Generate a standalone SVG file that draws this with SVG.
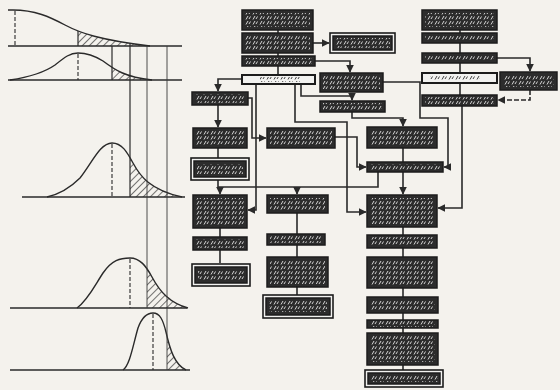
<svg xmlns="http://www.w3.org/2000/svg" width="560" height="390" viewBox="0 0 560 390">
<defs>
<style>
.bx{fill:#2c2c2c;stroke:#1c1c1c;stroke-width:1.5}
.lt{fill:#f2f2f0;stroke:#1c1c1c;stroke-width:2}
.sc{fill:url(#scrib)}
.scd{fill:url(#scribd)}
.dbo{fill:#f2f2f0;stroke:#1c1c1c;stroke-width:1.6}
.ln{fill:none;stroke:#2a2a2a;stroke-width:1.6}
.cv{fill:none;stroke:#2a2a2a;stroke-width:1.4}
.ax{fill:none;stroke:#2a2a2a;stroke-width:1.6}
.dsh{fill:none;stroke:#2a2a2a;stroke-width:1.1;stroke-dasharray:4 2}
.vt{fill:none;stroke:#2a2a2a;stroke-width:1.2}
.vtt{fill:none;stroke:#3a3a3a;stroke-width:0.9}
</style>
<pattern id="scrib" width="7" height="5" patternUnits="userSpaceOnUse">
<path d="M1,4.5 L3,1 M4,4 L5.5,1.5" stroke="#e6e6e6" stroke-width="0.9" fill="none"/>
</pattern>
<pattern id="scribd" width="7" height="5" patternUnits="userSpaceOnUse">
<path d="M1,4.5 L3,1 M4,4 L5.5,1.5" stroke="#2c2c2c" stroke-width="0.9" fill="none"/>
</pattern>
<pattern id="hatch" width="5" height="5" patternUnits="userSpaceOnUse" patternTransform="rotate(45)">
<line x1="0" y1="0" x2="0" y2="5" stroke="#2a2a2a" stroke-width="1.3"/>
</pattern>
<marker id="ar" viewBox="0 0 6 6" refX="5.5" refY="3" markerWidth="5" markerHeight="5" orient="auto">
<path d="M0,0 L6,3 L0,6 Z" fill="#2a2a2a"/>
</marker>
<clipPath id="c1"><path d="M13,10 C35,10 50,17 65,25 C80,33 100,40 150,46 L13,46 Z"/></clipPath>
<clipPath id="c2"><path d="M10,80 C30,77 45,72 55,65 C65,57 70,53 78,53 C88,53 95,56 103,61 C115,70 125,77 152,80 Z"/></clipPath>
<clipPath id="c3"><path d="M47,197 C60,194 70,188 80,178 C92,163 100,143 112,143 C122,143 127,152 133,163 C140,176 150,190 182,197 Z"/></clipPath>
<clipPath id="c4"><path d="M77,308 C88,300 95,285 103,273 C112,260 120,258 130,258 C140,258 146,266 152,277 C160,292 170,303 188,308 Z"/></clipPath>
<clipPath id="c5"><path d="M123,370 C130,365 133,345 138,328 C142,317 147,313 153,313 C160,313 163,320 166,332 C170,350 175,365 186,370 Z"/></clipPath>
</defs>
<rect x="0" y="0" width="560" height="390" fill="#f4f2ed"/>

<g id="curves">
<rect x="78" y="0" width="80" height="46" fill="url(#hatch)" clip-path="url(#c1)"/>
<rect x="112" y="40" width="45" height="40" fill="url(#hatch)" clip-path="url(#c2)"/>
<rect x="130" y="140" width="55" height="57" fill="url(#hatch)" clip-path="url(#c3)"/>
<rect x="147" y="255" width="45" height="53" fill="url(#hatch)" clip-path="url(#c4)"/>
<rect x="167" y="310" width="22" height="60" fill="url(#hatch)" clip-path="url(#c5)"/>
<path class="cv" d="M8,10 L13,10 C35,10 50,17 65,25 C80,33 100,40 150,46"/>
<path class="cv" d="M10,80 C30,77 45,72 55,65 C65,57 70,53 78,53 C88,53 95,56 103,61 C115,70 125,77 152,80"/>
<path class="cv" d="M47,197 C60,194 70,188 80,178 C92,163 100,143 112,143 C122,143 127,152 133,163 C140,176 150,190 182,197"/>
<path class="cv" d="M77,308 C88,300 95,285 103,273 C112,260 120,258 130,258 C140,258 146,266 152,277 C160,292 170,303 188,308"/>
<path class="cv" d="M123,370 C130,365 133,345 138,328 C142,317 147,313 153,313 C160,313 163,320 166,332 C170,350 175,365 186,370"/>
<line class="ax" x1="8" y1="46" x2="182" y2="46"/>
<line class="ax" x1="8" y1="80" x2="182" y2="80"/>
<line class="ax" x1="22" y1="197" x2="185" y2="197"/>
<line class="ax" x1="10" y1="308" x2="187" y2="308"/>
<line class="ax" x1="10" y1="370" x2="190" y2="370"/>
<line class="dsh" x1="15" y1="11" x2="15" y2="46"/>
<line class="dsh" x1="78" y1="54" x2="78" y2="80"/>
<line class="dsh" x1="112" y1="144" x2="112" y2="197"/>
<line class="dsh" x1="130" y1="259" x2="130" y2="308"/>
<line class="dsh" x1="153" y1="314" x2="153" y2="370"/>
<line class="vt" x1="78" y1="31" x2="78" y2="46"/>
<line class="vt" x1="112" y1="46" x2="112" y2="80"/>
<line class="vt" x1="130" y1="44" x2="130" y2="197"/>
<line class="vtt" x1="147" y1="46" x2="147" y2="308"/>
<line class="vtt" x1="167" y1="46" x2="167" y2="370"/>
</g>

<g id="connectors">
<path class="ln" d="M278,30 V33 M278,53 V56 M278,66 V75"/>
<path class="ln" d="M313,43 H329" marker-end="url(#ar)"/>
<path class="ln" d="M315,61 H350 V72" marker-end="url(#ar)"/>
<path class="ln" d="M242,79 H218 V91" marker-end="url(#ar)"/>
<path class="ln" d="M256,84 V210 H248" marker-end="url(#ar)"/>
<path class="ln" d="M295,84 V122 H347 V212 H366" marker-end="url(#ar)"/>
<path class="ln" d="M301,84 V96 H352 V100" marker-end="url(#ar)"/>
<path class="ln" d="M352,112 V118 H403 V126" marker-end="url(#ar)"/>
<path class="ln" d="M383,82 H420 V118 H448 V167 H444" marker-end="url(#ar)"/>
<path class="ln" d="M248,98 H252 V138 H266" marker-end="url(#ar)"/>
<path class="ln" d="M218,105 V127" marker-end="url(#ar)"/>
<path class="ln" d="M218,148 V158 M218,180 V187 H378 V172"/>
<path class="ln" d="M220,187 V194" marker-end="url(#ar)"/>
<path class="ln" d="M297,187 V194" marker-end="url(#ar)"/>
<path class="ln" d="M335,137 H357 V167 H366" marker-end="url(#ar)"/>
<path class="ln" d="M403,148 V162"/>
<path class="ln" d="M403,172 V194" marker-end="url(#ar)"/>
<path class="ln" d="M220,228 V237 M220,250 V263"/>
<path class="ln" d="M297,213 V234 M297,245 V257 M297,287 V295"/>
<path class="ln" d="M403,227 V235 M403,248 V257 M403,288 V297 M403,313 V320 M403,328 V333 M403,365 V370"/>
<path class="ln" d="M460,30 V33 M460,43 V53 M460,63 V73 M460,83 V95"/>
<path class="ln" d="M497,58 H530 V71" marker-end="url(#ar)"/>
<path class="ln" d="M530,90 V100 H498" marker-end="url(#ar)" stroke-dasharray="5 2"/>
<path class="ln" d="M462,106 V208 H438" marker-end="url(#ar)"/>
</g>

<g id="n1"><rect class="bx" x="242" y="10" width="71" height="20"/><rect class="sc" x="245" y="13" width="65" height="14"/></g>
<g id="n2"><rect class="bx" x="242" y="33" width="71" height="20"/><rect class="sc" x="245" y="36" width="65" height="14"/></g>
<g id="n3"><rect class="dbo" x="330" y="33" width="65" height="20"/><rect class="bx" x="333" y="36" width="59" height="14"/><rect class="sc" x="335" y="38" width="55" height="10"/></g>
<g id="n4"><rect class="bx" x="242" y="56" width="73" height="10"/><rect class="sc" x="245" y="58" width="67" height="6"/></g>
<g id="n5"><rect class="lt" x="242" y="75" width="73" height="9"/><rect class="scd" x="260" y="77" width="40" height="5"/></g>
<g id="n6"><rect class="bx" x="320" y="73" width="63" height="19"/><rect class="sc" x="323" y="76" width="57" height="13"/></g>
<g id="n7"><rect class="bx" x="320" y="101" width="65" height="11"/><rect class="sc" x="323" y="103" width="59" height="7"/></g>

<g id="n8"><rect class="bx" x="192" y="92" width="56" height="13"/><rect class="sc" x="195" y="94" width="50" height="9"/></g>
<g id="n9"><rect class="bx" x="193" y="128" width="54" height="20"/><rect class="sc" x="196" y="131" width="48" height="14"/></g>
<g id="n10"><rect class="dbo" x="191" y="158" width="58" height="22"/><rect class="bx" x="194" y="161" width="52" height="16"/><rect class="sc" x="197" y="164" width="46" height="10"/></g>
<g id="n11"><rect class="bx" x="193" y="195" width="54" height="33"/><rect class="sc" x="196" y="198" width="48" height="27"/></g>
<g id="n12"><rect class="bx" x="193" y="237" width="54" height="13"/><rect class="sc" x="196" y="239" width="48" height="9"/></g>
<g id="n13"><rect class="dbo" x="192" y="264" width="58" height="22"/><rect class="bx" x="195" y="267" width="52" height="16"/><rect class="sc" x="198" y="270" width="46" height="10"/></g>

<g id="n14"><rect class="bx" x="267" y="128" width="68" height="20"/><rect class="sc" x="270" y="131" width="62" height="14"/></g>
<g id="n15"><rect class="bx" x="267" y="195" width="61" height="18"/><rect class="sc" x="270" y="198" width="55" height="12"/></g>
<g id="n16"><rect class="bx" x="267" y="234" width="58" height="11"/><rect class="sc" x="270" y="236" width="52" height="7"/></g>
<g id="n17"><rect class="bx" x="267" y="257" width="61" height="30"/><rect class="sc" x="270" y="260" width="55" height="24"/></g>
<g id="n18"><rect class="dbo" x="263" y="295" width="70" height="23"/><rect class="bx" x="266" y="298" width="64" height="17"/><rect class="sc" x="269" y="301" width="58" height="11"/></g>

<g id="n19"><rect class="bx" x="367" y="127" width="70" height="21"/><rect class="sc" x="370" y="130" width="64" height="15"/></g>
<g id="n20"><rect class="bx" x="367" y="162" width="76" height="10"/><rect class="sc" x="370" y="164" width="70" height="6"/></g>
<g id="n21"><rect class="bx" x="367" y="195" width="70" height="32"/><rect class="sc" x="370" y="198" width="64" height="26"/></g>
<g id="n22"><rect class="bx" x="367" y="235" width="70" height="13"/><rect class="sc" x="370" y="237" width="64" height="9"/></g>
<g id="n23"><rect class="bx" x="367" y="257" width="70" height="31"/><rect class="sc" x="370" y="260" width="64" height="25"/></g>
<g id="n24"><rect class="bx" x="367" y="297" width="71" height="16"/><rect class="sc" x="370" y="300" width="65" height="10"/></g>
<g id="n25"><rect class="bx" x="367" y="320" width="71" height="8"/><rect class="sc" x="370" y="321" width="65" height="6"/></g>
<g id="n26"><rect class="bx" x="367" y="333" width="71" height="32"/><rect class="sc" x="370" y="336" width="65" height="26"/></g>
<g id="n27"><rect class="dbo" x="365" y="370" width="78" height="17"/><rect class="bx" x="368" y="373" width="72" height="11"/><rect class="sc" x="370" y="375" width="68" height="7"/></g>

<g id="n28"><rect class="bx" x="422" y="10" width="75" height="20"/><rect class="sc" x="425" y="13" width="69" height="14"/></g>
<g id="n29"><rect class="bx" x="422" y="33" width="75" height="10"/><rect class="sc" x="425" y="35" width="69" height="6"/></g>
<g id="n30"><rect class="bx" x="422" y="53" width="75" height="10"/><rect class="sc" x="425" y="55" width="69" height="6"/></g>
<g id="n31"><rect class="lt" x="422" y="73" width="75" height="10"/><rect class="scd" x="430" y="75" width="50" height="6"/></g>
<g id="n32"><rect class="bx" x="500" y="72" width="57" height="18"/><rect class="sc" x="503" y="75" width="51" height="12"/></g>
<g id="n33"><rect class="bx" x="422" y="95" width="75" height="11"/><rect class="sc" x="425" y="97" width="69" height="7"/></g>
</svg>
